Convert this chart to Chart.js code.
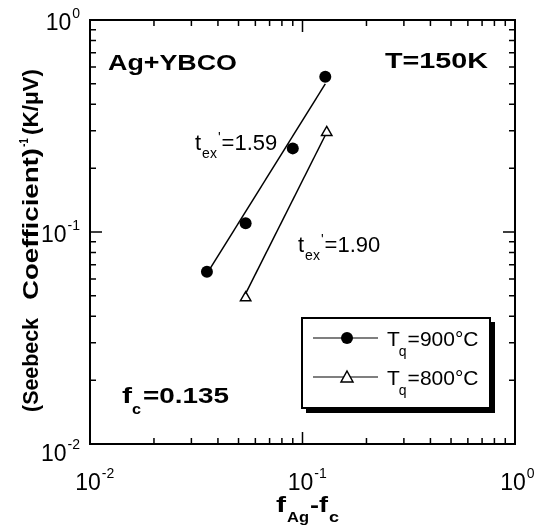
<!DOCTYPE html>
<html>
<head>
<meta charset="utf-8">
<script src="https://cdn.jsdelivr.net/npm/chart.js@4/dist/chart.umd.min.js"></script>
<style>
  body { margin: 0; background: #fff; }
  canvas { display: block; }
</style>
</head>
<body>
<canvas id="seebeckChart" width="541" height="525"></canvas>
<script>
// values (log-log)
const fAg900 = [0.0355, 0.054, 0.090, 0.128];
const invS900 = [0.065, 0.110, 0.248, 0.54];
const fAg800 = [0.054, 0.130];
const invS800 = [0.049, 0.295];

// fitted lines (end points)
const fit900X = [0.036, 0.128];
const fit900Y = [0.065, 0.50];
const fit800X = [0.054, 0.128];
const fit800Y = [0.0512, 0.286];

const decadeTicks = [0.01, 0.1, 1];
const decadeExps = ["-2", "-1", "0"];

const FONT = "'Liberation Sans', Arial, Helvetica, sans-serif";

function pts(xs, ys) {
    return xs.map((x, i) => ({ x: x, y: ys[i] }));
}

// draw text squeezed/stretched to a given width
function fitText(ctx, text, x, y, font, width) {
    ctx.font = font;
    const w = ctx.measureText(text).width;
    ctx.save();
    ctx.translate(x, y);
    ctx.scale(width / w, 1);
    ctx.fillText(text, 0, 0);
    ctx.restore();
    return width;
}

// pieces: [text, size, bold, dy, dx]
function rich(ctx, x, y, pieces) {
    let cx = x;
    pieces.forEach(p => {
        const [t, size, bold, dy, dx] = p;
        ctx.font = (bold ? "bold " : "") + size + "px " + FONT;
        cx += dx || 0;
        ctx.fillText(t, cx, y + (dy || 0));
        cx += ctx.measureText(t).width;
    });
}

const framePlugin = {
    id: "frame",
    afterDraw(chart) {
        const ctx = chart.ctx;
        const a = chart.chartArea;
        const xs = chart.scales.x, ys = chart.scales.y;
        ctx.save();
        ctx.strokeStyle = "#000";
        ctx.fillStyle = "#000";

        // box
        ctx.lineWidth = 2;
        ctx.strokeRect(a.left, a.top, a.right - a.left, a.bottom - a.top);

        // inward ticks on all sides
        ctx.lineWidth = 1.5;
        for (let d = -2; d <= 0; d++) {
            for (let k = 1; k <= 9; k++) {
                if (d === 0 && k > 1) break;
                const v = k * Math.pow(10, d);
                const len = k === 1 ? 12 : 6;
                const px = xs.getPixelForValue(v);
                const py = ys.getPixelForValue(v);
                ctx.beginPath();
                ctx.moveTo(px, a.bottom); ctx.lineTo(px, a.bottom - len);
                ctx.moveTo(px, a.top); ctx.lineTo(px, a.top + len);
                ctx.moveTo(a.left, py); ctx.lineTo(a.left + len, py);
                ctx.moveTo(a.right, py); ctx.lineTo(a.right - len, py);
                ctx.stroke();
            }
        }

        // tick labels
        ctx.textBaseline = "alphabetic";
        ctx.textAlign = "left";
        decadeTicks.forEach((v, i) => {
            const px = xs.getPixelForValue(v);
            ctx.font = "23px " + FONT;
            const w10 = ctx.measureText("10").width;
            rich(ctx, px - w10 / 2 - 2, 490, [["10", 23, false, 0], [decadeExps[i], 14, false, -12, 1]]);

            const py = ys.getPixelForValue(v);
            ctx.font = "14px " + FONT;
            const we = ctx.measureText(decadeExps[i]).width;
            const off = i === 0 ? 17 : 10;
            rich(ctx, 80 - we - w10 - 1, py + off, [["10", 23, false, 0], [decadeExps[i], 14, false, -12, 1]]);
        });

        // axis titles
        fitText(ctx, "f", 276, 512, "bold 22px " + FONT, 10);
        fitText(ctx, "Ag", 287, 522, "bold 14px " + FONT, 22);
        fitText(ctx, "-f", 310, 512, "bold 22px " + FONT, 18);
        fitText(ctx, "c", 329, 522, "bold 14px " + FONT, 10);

        ctx.save();
        ctx.translate(38, 412);
        ctx.rotate(-Math.PI / 2);
        fitText(ctx, "(Seebeck", 0, 0, "bold 22px " + FONT, 94);
        fitText(ctx, "Coefficient)", 112, 0, "bold 22px " + FONT, 152);
        fitText(ctx, "-1", 265, -10, "bold 13px " + FONT, 9);
        fitText(ctx, "(K/\u03BCV)", 277, 0, "bold 22px " + FONT, 66);
        ctx.restore();

        // annotations
        fitText(ctx, "Ag+YBCO", 108, 70, "bold 22px " + FONT, 129);
        fitText(ctx, "T=150K", 385, 68, "bold 22px " + FONT, 103);
        fitText(ctx, "f", 122, 403, "bold 22px " + FONT, 10);
        fitText(ctx, "c", 132, 414, "bold 14px " + FONT, 9);
        fitText(ctx, "=0.135", 143, 403, "bold 22px " + FONT, 86);

        rich(ctx, 195, 150, [["t", 22, false, 0], ["ex", 14, false, 8, 1], ["'", 14, false, -8, 1], ["=1.59", 22, false, 0, 1]]);
        rich(ctx, 298, 252, [["t", 22, false, 0], ["ex", 14, false, 8, 1], ["'", 14, false, -8, 1], ["=1.90", 22, false, 0, 1]]);

        // legend box with shadow
        ctx.fillRect(306, 407, 188, 6);
        ctx.fillRect(489, 322, 6, 91);
        ctx.fillStyle = "#fff";
        ctx.fillRect(302, 318, 188, 90);
        ctx.fillStyle = "#000";
        ctx.lineWidth = 2;
        ctx.strokeRect(302, 318, 188, 90);

        const rows = [
            { y: 338, text: "=900\u00B0C", filled: true },
            { y: 377, text: "=800\u00B0C", filled: false }
        ];
        rows.forEach(r => {
            ctx.lineWidth = 1.2;
            ctx.beginPath();
            ctx.moveTo(313, r.y); ctx.lineTo(378, r.y);
            ctx.stroke();
            if (r.filled) {
                ctx.beginPath();
                ctx.arc(347, r.y, 6, 0, Math.PI * 2);
                ctx.fill();
            } else {
                ctx.beginPath();
                ctx.moveTo(347, r.y - 6);
                ctx.lineTo(353, r.y + 5);
                ctx.lineTo(341, r.y + 5);
                ctx.closePath();
                ctx.fillStyle = "#fff";
                ctx.fill();
                ctx.fillStyle = "#000";
                ctx.lineWidth = 1.5;
                ctx.stroke();
            }
            rich(ctx, 387, r.y + 8, [["T", 21, false, 0], ["q", 14, false, 10, -1], [r.text, 21, false, 0, 1]]);
        });

        ctx.restore();
    }
};

new Chart(document.getElementById("seebeckChart"), {
    type: "scatter",
    data: {
        datasets: [
            {
                label: "fit 900",
                data: pts(fit900X, fit900Y),
                showLine: true,
                borderColor: "#000",
                borderWidth: 1.5,
                pointRadius: 0
            },
            {
                label: "fit 800",
                data: pts(fit800X, fit800Y),
                showLine: true,
                borderColor: "#000",
                borderWidth: 1.5,
                pointRadius: 0
            },
            {
                label: "Tq=900\u00B0C",
                data: pts(fAg900, invS900),
                pointStyle: "circle",
                pointRadius: 6,
                backgroundColor: "#000",
                borderColor: "#000",
                borderWidth: 0
            },
            {
                label: "Tq=800\u00B0C",
                data: pts(fAg800, invS800),
                pointStyle: "triangle",
                pointRadius: 6,
                backgroundColor: "#fff",
                borderColor: "#000",
                borderWidth: 1.5
            }
        ]
    },
    options: {
        responsive: false,
        animation: false,
        devicePixelRatio: 1,
        layout: { padding: { left: 90, right: 26, top: 20, bottom: 81 } },
        plugins: { legend: { display: false }, tooltip: { enabled: false } },
        scales: {
            x: { type: "logarithmic", min: 0.01, max: 1, display: false },
            y: { type: "logarithmic", min: 0.01, max: 1, display: false }
        }
    },
    plugins: [framePlugin]
});
</script>
</body>
</html>
